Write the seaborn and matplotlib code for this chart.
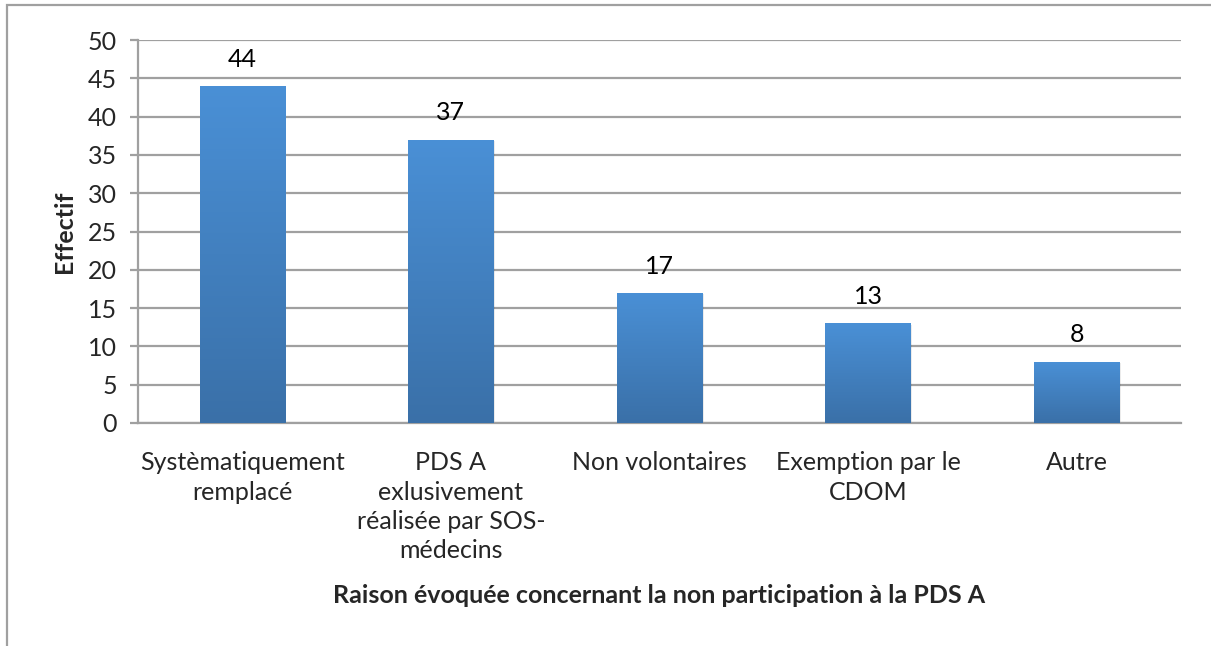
import numpy as np
import pandas as pd
import seaborn as sns
import matplotlib.pyplot as plt
from matplotlib.patches import Rectangle
from matplotlib.colors import LinearSegmentedColormap

categories = ["Systèmatiquement\nremplacé",
              "PDS A\nexlusivement\nréalisée par SOS-\nmédecins",
              "Non volontaires",
              "Exemption par le\nCDOM",
              "Autre"]
effectif = [44, 37, 17, 13, 8]

df = pd.DataFrame({"raison": categories, "effectif": effectif})

sns.set_style("white")
plt.rcParams['font.family'] = ['Lato', 'DejaVu Sans']

fig = plt.figure(figsize=(12.11, 6.46), dpi=100)
W, H = 1211, 646
ax = fig.add_axes([138 / W, 1 - 423 / H, (1181 - 138) / W, (423 - 40) / H])

sns.barplot(data=df, x="raison", y="effectif", color="#4a8fd4", width=0.41,
            ax=ax, zorder=3)

ax.set_ylim(0, 50)
ax.set_xlim(-0.5, len(categories) - 0.5)
ax.set_yticks(range(0, 51, 5))
ax.yaxis.grid(True, color="#a0a0a0", linewidth=1.6, zorder=0)
ax.set_axisbelow(True)

# gradient fill on each bar
cmap = LinearSegmentedColormap.from_list("g", ["#3a70a8", "#4a90d6"])
grad = np.linspace(0, 1, 256).reshape(-1, 1)
for p in ax.patches:
    x0, y0 = p.get_x(), p.get_y()
    w, h = p.get_width(), p.get_height()
    p.set_facecolor("none")
    p.set_edgecolor("none")
    im = ax.imshow(grad, cmap=cmap, origin="lower", aspect="auto",
                   extent=(x0, x0 + w, y0, y0 + h), zorder=3)
    im.set_clip_path(p)
    # soft shadow
    ax.add_patch(Rectangle((x0 + 0.006, y0 - 0.15), w, h, facecolor="#000000",
                           alpha=0.08, edgecolor="none", zorder=2))

ax.set_xlim(-0.5, len(categories) - 0.5)
ax.set_ylim(0, 50)

for c, v in zip(range(len(effectif)), effectif):
    ax.annotate(str(v), (c, v), xytext=(0, 11), textcoords="offset points",
                ha="center", va="bottom", fontsize=18, color="#000000")

for s in ["top", "right"]:
    ax.spines[s].set_visible(False)
ax.spines["left"].set_color("#a0a0a0")
ax.spines["left"].set_linewidth(1.6)
ax.spines["bottom"].set_color("#a0a0a0")
ax.spines["bottom"].set_linewidth(1.6)

ax.tick_params(axis="y", which="major", left=True, length=6, width=1.6,
               color="#a0a0a0", labelsize=18, pad=9)
ax.tick_params(axis="x", bottom=False, labelsize=18, pad=17)
for lbl in ax.get_xticklabels():
    lbl.set_linespacing(1.32)

ax.set_xlabel("Raison évoquée concernant la non participation à la PDS A",
              fontsize=18, fontweight="bold", labelpad=16)
ax.set_ylabel("Effectif", fontsize=18, fontweight="bold", labelpad=9)

fig.patches.append(Rectangle((7 / W, -0.1), 1.2, 1 - 5 / H + 0.1,
                             transform=fig.transFigure, facecolor="none",
                             edgecolor="#a0a0a0", linewidth=1.6))

fig.savefig("out.png", dpi=100)
